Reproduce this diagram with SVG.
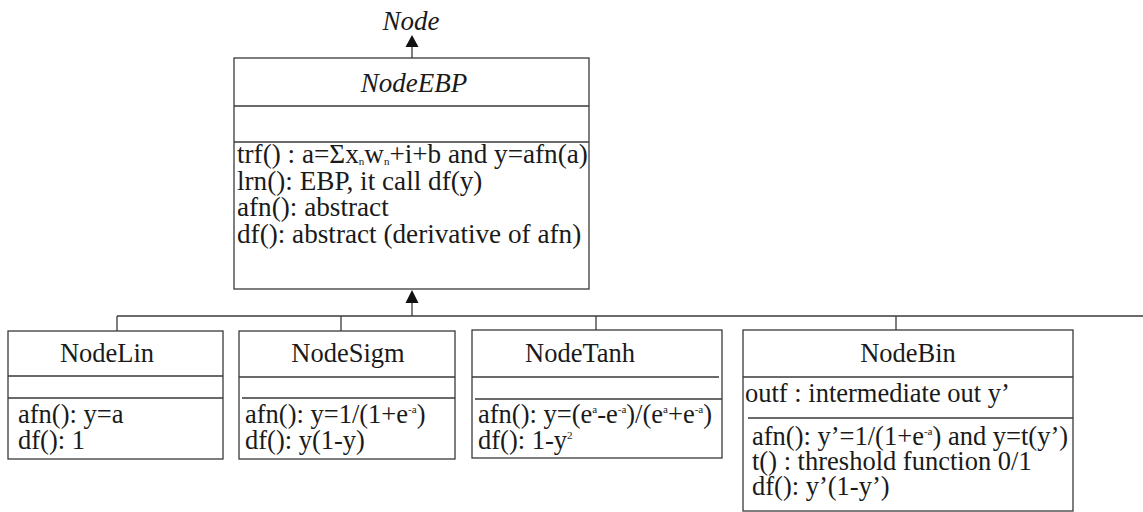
<svg xmlns="http://www.w3.org/2000/svg" width="1143" height="512" viewBox="0 0 1143 512">
<style>
.box{fill:#fff;stroke:#3a3a3a;stroke-width:1.3}
.div{stroke:#3a3a3a;stroke-width:1.3;fill:none}
text{font-family:"Liberation Serif","Times New Roman",serif;fill:#1a1a1a}
.t{font-size:26.5px}
.tb{font-size:27.2px}
.ti{font-size:27px;font-style:italic}
.c{text-anchor:middle}
.s{font-size:11px}
.con{stroke:#3a3a3a;stroke-width:1.3;fill:none}
.head{fill:#111}
</style>
<g id="connectors">
<path class="con" d="M412,58 V45"/>
<path class="head" d="M412,35 L418.5,47 L405.5,47 Z"/>
<path class="con" d="M412,316 V301"/>
<path class="head" d="M412,290 L418.5,303 L405.5,303 Z"/>
<path class="con" d="M117,316 H1143"/>
<path class="con" d="M117,316 V331"/>
<path class="con" d="M341,316 V331"/>
<path class="con" d="M596,316 V330"/>
<path class="con" d="M896,316 V330"/>
</g>
<g id="node-label">
<text class="ti c" x="411" y="30" font-size="26">Node</text>
</g>
<g id="NodeEBP">
<rect class="box" x="234" y="58" width="355" height="231"/>
<path class="div" d="M234,106 H589 M234,142 H589"/>
<text class="ti c" x="414" y="92">NodeEBP</text>
<text class="tb" x="237" y="163">trf() : a=Σx<tspan class="s" dy="2">n</tspan><tspan dy="-2">w</tspan><tspan class="s" dy="2">n</tspan><tspan dy="-2">+i+b and y=afn(a)</tspan></text>
<text class="tb" x="237" y="189.5">lrn(): EBP, it call df(y)</text>
<text class="tb" x="237" y="216">afn(): abstract</text>
<text class="tb" x="237" y="242.5">df(): abstract (derivative of afn)</text>
</g>
<g id="NodeLin">
<rect class="box" x="8" y="331" width="215" height="128"/>
<path class="div" d="M8,376 H223 M8,398 H223"/>
<text class="t c" x="107" y="362">NodeLin</text>
<text class="t" x="18" y="423">afn(): y=a</text>
<text class="t" x="18" y="449">df(): 1</text>
</g>
<g id="NodeSigm">
<rect class="box" x="239" y="331" width="216" height="128"/>
<path class="div" d="M239,377 H455 M242,398 H455"/>
<text class="t c" x="348" y="362">NodeSigm</text>
<text class="t" x="245" y="423">afn(): y=1/(1+e<tspan class="s" dy="-10">-a</tspan><tspan dy="10">)</tspan></text>
<text class="t" x="245" y="449">df(): y(1-y)</text>
</g>
<g id="NodeTanh">
<rect class="box" x="472" y="330" width="250" height="128"/>
<path class="div" d="M472,377 H719 M475,399 H722"/>
<text class="t c" x="580" y="362">NodeTanh</text>
<text class="t" x="478" y="423">afn(): y=(e<tspan class="s" dy="-10">a</tspan><tspan dy="10">-e</tspan><tspan class="s" dy="-10">-a</tspan><tspan dy="10">)/(e</tspan><tspan class="s" dy="-10">a</tspan><tspan dy="10">+e</tspan><tspan class="s" dy="-10">-a</tspan><tspan dy="10">)</tspan></text>
<text class="t" x="478" y="449">df(): 1-y<tspan class="s" dy="-10">2</tspan></text>
</g>
<g id="NodeBin">
<rect class="box" x="743" y="330" width="330" height="181"/>
<path class="div" d="M743,377 H1073 M748,418 H1073"/>
<text class="t c" x="908" y="362">NodeBin</text>
<text class="t" x="745" y="402">outf : intermediate out y’</text>
<text class="t" x="752" y="445">afn(): y’=1/(1+e<tspan class="s" dy="-10">-a</tspan><tspan dy="10">) and y=t(y’)</tspan></text>
<text class="t" x="752" y="470">t() : threshold function 0/1</text>
<text class="t" x="752" y="495">df(): y’(1-y’)</text>
</g>
</svg>
